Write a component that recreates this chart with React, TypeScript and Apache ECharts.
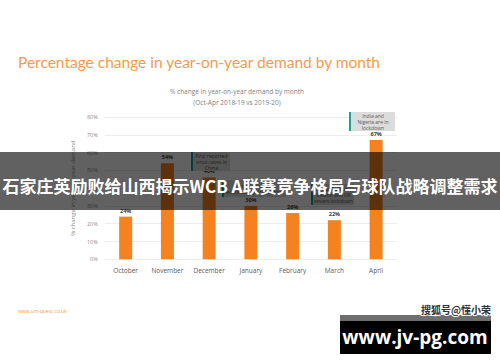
import React, { useEffect, useRef } from "react";
import * as echarts from "echarts";

const months = ["October", "November", "December", "January", "February", "March", "April"];
const changePct = [24, 54, 46, 30, 26, 22, 67];
const yTicks = [0, 10, 20, 30, 40, 50, 60, 70, 80];

const ORANGE = "#f5821f";
const TEAL = "#1aa39e";
const BOXFILL = "#dcdcdc";

function annotation(x: number, y: number, w: number, h: number, lines: string[]) {
  return {
    type: "group",
    x,
    y,
    z: 10,
    children: [
      { type: "rect", z: 10, shape: { x: 0, y: 0, width: w, height: h }, style: { fill: BOXFILL } },
      { type: "rect", z: 11, shape: { x: 0, y: 0, width: 2, height: h }, style: { fill: TEAL } },
      {
        type: "text",
        z: 11,
        x: w / 2 + 1,
        y: h / 2,
        style: {
          text: lines.join("\n"),
          fill: "#595959",
          font: "5px 'Open Sans', sans-serif",
          align: "center",
          verticalAlign: "middle",
          lineHeight: 6,
        },
      },
    ],
  };
}

export default function App() {
  const ref = useRef<HTMLDivElement>(null);
  useEffect(() => {
    if (!ref.current) return;
    const chart = echarts.init(ref.current, undefined, { renderer: "svg" });
    chart.setOption({
      animation: false,
      backgroundColor: "#ffffff",
      grid: { left: 104.8, right: 103, top: 117, bottom: 102.7, containLabel: false },
      xAxis: {
        type: "category",
        data: months,
        axisLine: { show: false },
        axisTick: { show: false },
        axisLabel: { color: "#595959", fontSize: 6.5, fontFamily: "Open Sans", margin: 8 },
      },
      yAxis: {
        type: "value",
        min: yTicks[0],
        max: yTicks[yTicks.length - 1],
        interval: 10,
        name: "% change in year-on-year demand",
        nameLocation: "middle",
        nameGap: 20,
        nameRotate: 90,
        nameTextStyle: { color: "#8c8c8c", fontSize: 6, fontFamily: "Open Sans" },
        axisLine: { show: false },
        axisTick: { show: false },
        splitLine: { lineStyle: { color: "#e8e8e8", width: 0.8 } },
        axisLabel: {
          color: "#8c8c8c",
          fontSize: 5.5,
          fontFamily: "Open Sans",
          margin: 7,
          formatter: (v: number) => v + "%",
        },
      },
      series: [
        {
          type: "bar",
          data: changePct,
          barWidth: 13,
          z: 2,
          itemStyle: { color: ORANGE },
          label: {
            show: true,
            position: "top",
            distance: 3,
            formatter: "{c}%",
            color: "#404040",
            fontSize: 5.5,
            fontWeight: "bold",
            fontFamily: "Open Sans",
          },
        },
      ],
      graphic: [
        {
          type: "text",
          left: 18,
          top: 54,
          style: {
            text: "Percentage change in year-on-year demand by month",
            fill: "#f79a4f",
            font: "15.5px Lato, 'Open Sans', sans-serif",
          },
        },
        {
          type: "text",
          x: 237,
          y: 97,
          style: {
            text: "% change in year-on-year demand by month\n(Oct-Apr 2018-19 vs 2019-20)",
            fill: "#7f7f7f",
            font: "6.5px 'Open Sans', sans-serif",
            align: "center",
            verticalAlign: "middle",
            lineHeight: 11,
          },
        },
        annotation(349, 112, 46, 19, ["India and", "Nigeria are in", "lockdown"]),
        annotation(191, 152, 39, 19, ["First reported", "virus cases in", "China"]),
        annotation(222, 180, 64, 17, ["Europe introduces", "measures/adjust/lockdowns"]),
        annotation(311, 184, 43, 21, ["Italy, Poland,", "Ireland and UK", "enters lockdown"]),
        {
          type: "text",
          left: 18,
          top: 308,
          style: { text: "www.uni-quest.co.uk", fill: "#f79a4f", font: "5px 'Open Sans', sans-serif" },
        },
        {
          type: "rect",
          z: 100,
          shape: { x: 0, y: 152, width: 500, height: 58 },
          style: { fill: "#000000", opacity: 0.62 },
        },
        {
          type: "text",
          z: 101,
          x: 250,
          y: 185,
          style: {
            text: "石家庄英励败给山西揭示WCB A联赛竞争格局与球队战略调整需求",
            fill: "#ffffff",
            font: "bold 17px 'Noto Sans CJK SC', sans-serif",
            align: "center",
            verticalAlign: "middle",
          },
        },
        {
          type: "text",
          z: 101,
          x: 491,
          y: 309,
          style: {
            text: "搜狐号@懂小荣",
            fill: "#333333",
            stroke: "#ffffff",
            lineWidth: 2,
            font: "bold 10px 'Noto Sans CJK SC', sans-serif",
            align: "right",
            verticalAlign: "middle",
          },
        },
        {
          type: "rect",
          z: 100,
          shape: { x: 340, y: 315, width: 151, height: 6 },
          style: { fill: "#6e6e6e" },
        },
        {
          type: "rect",
          z: 100,
          shape: { x: 340, y: 321, width: 151, height: 33 },
          style: { fill: "#000000" },
        },
        {
          type: "text",
          z: 101,
          x: 415,
          y: 337,
          style: {
            text: "www.jv-pg.com",
            fill: "#ffffff",
            font: "bold 19px 'Open Sans', sans-serif",
            align: "center",
            verticalAlign: "middle",
          },
        },
      ],
    });
    return () => chart.dispose();
  }, []);
  return (
    <div
      ref={ref}
      style={{ position: "fixed", left: 0, top: 0, width: 500, height: 362 }}
    />
  );
}
